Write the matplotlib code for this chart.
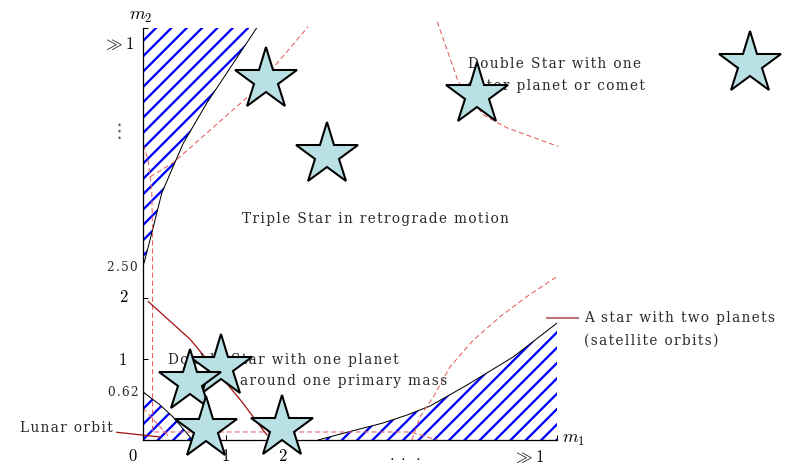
import matplotlib
matplotlib.use('Agg')
import matplotlib.pyplot as plt
from matplotlib.markers import MarkerStyle

plt.rcParams['font.family'] = ['DejaVu Serif', 'DejaVu Sans']
plt.rcParams['mathtext.fontset'] = 'cm'
plt.rcParams['hatch.linewidth'] = 1.8
plt.rcParams['hatch.color'] = 'blue'
plt.rcParams['lines.scale_dashes'] = False

# schematic units: 1 unit = 1 px, origin at the corner of the axes
# hatched regions (black boundary curves)
top_left_u = [1, 7, 12, 18.7, 28.7, 40.3, 63.7, 90.3, 113.7]
top_left_v = [177, 200, 220, 246.7, 270, 296.7, 336.7, 376.7, 412]
low_left_u = [0, 17, 30, 47, 49]
low_left_v = [48, 35, 23, 3, 0]
low_right_u = [175, 205, 240, 264, 287, 324, 370, 414]
low_right_v = [0, 8, 17, 25, 34, 55, 83, 117]

# red dashed borders
dash1_u = [0.3, 5, 8.7, 9.5, 9.5, 267, 284, 294]
dash1_v = [295, 280, 250, 207, 8, 8, 3, 0]
dash2_u = [7, 30, 63.7, 107, 137, 165]
dash2_v = [263, 277, 306.7, 345, 380, 413]
dash3_u = [268.7, 277, 290.3, 307, 330.3, 357, 383.7, 413.7]
dash3_v = [0, 23.3, 43.3, 73.3, 100, 123.3, 143.3, 163.3]
dash4_u = [294, 315, 340, 363.7, 415]
dash4_v = [418, 358.3, 325, 312, 293.3]
dash5_u = [0, 26]
dash5_v = [32, 3]

# dark red solid lines
solid_u = [5.3, 47, 98.7, 123.7]
solid_v = [138.3, 100.7, 38.3, 5]
lunar_u = [-26.3, 17]
lunar_v = [7.7, 3]
pointer_u = [403.7, 435]
pointer_v = [122, 122]

# stars
star_u = [122.7, 183.7, 334.3, 607, 77.7, 47, 63, 138.7]
star_v = [359.7, 284.3, 344.7, 375.7, 73, 58, 11, 12.3]


def spaced(s):
    # wide letter spacing like the original typesetting
    return '\u200a'.join(s)


DPI = 92
fig = plt.figure(figsize=(798.3 / DPI, 469.3 / DPI), dpi=DPI, facecolor='white')
ax = fig.add_axes([143 / 798, 29 / 469, 414 / 798, 412 / 469])
ax.set_xlim(0, 414)
ax.set_ylim(0, 412)
for s in ['top', 'right']:
    ax.spines[s].set_visible(False)
for s in ['left', 'bottom']:
    ax.spines[s].set_linewidth(1.0)
ax.set_xticks([83, 140, 414])
ax.set_yticks([81, 142, 412])
ax.set_xticklabels([])
ax.set_yticklabels([])
ax.tick_params(direction='in', length=4, width=0.8)

ax.fill_betweenx(top_left_v, 0, top_left_u, facecolor='none', edgecolor='blue', linewidth=0, hatch='//')
ax.fill_between(low_left_u, 0, low_left_v, facecolor='none', edgecolor='blue', linewidth=0, hatch='//')
ax.fill_between(low_right_u, 0, low_right_v, facecolor='none', edgecolor='blue', linewidth=0, hatch='//')
for uu, vv in [(top_left_u, top_left_v), (low_left_u, low_left_v), (low_right_u, low_right_v)]:
    ax.plot(uu, vv, color='black', lw=0.8)

red = '#e45a5a'
for uu, vv in [(dash1_u, dash1_v), (dash2_u, dash2_v), (dash3_u, dash3_v), (dash4_u, dash4_v), (dash5_u, dash5_v)]:
    ax.plot(uu, vv, color=red, lw=0.8, dashes=(3.9, 2.4), clip_on=False)

ax.plot(solid_u, solid_v, color='#a31515', lw=1.0)
ax.plot(lunar_u, lunar_v, color='#a31515', lw=1.0, clip_on=False)
ax.plot(pointer_u, pointer_v, color='#c07474', lw=1.6, clip_on=False)

# text labels
tc = '#2a2a2a'
fs = 10.7
ax.text(99, 221, spaced('Triple Star in retrograde motion'), fontsize=fs, color=tc, va='center', ha='left')
ax.text(25, 80, spaced('Double Star with one planet'), fontsize=fs, color=tc, va='center', ha='left')
ax.text(304, 59, spaced('around one primary mass'), fontsize=fs, color=tc, va='center', ha='right')
ax.text(325, 376, spaced('Double Star with one'), fontsize=fs, color=tc, va='center', ha='left')
ax.text(502, 354, spaced('outer planet or comet'), fontsize=fs, color=tc, va='center', ha='right', clip_on=False)
ax.text(441, 122, spaced('A star with two planets'), fontsize=fs, color=tc, va='center', ha='left', clip_on=False)
ax.text(441, 100, spaced('(satellite orbits)'), fontsize=fs, color=tc, va='center', ha='left', clip_on=False)
ax.text(-30, 12, spaced('Lunar orbit'), fontsize=fs, color=tc, va='center', ha='right', clip_on=False)

# axis labels
ax.text(-2.5, 424, r'$m_2$', fontsize=14, va='center', ha='center', clip_on=False)
ax.text(430.5, 1, r'$m_1$', fontsize=14, va='center', ha='center', clip_on=False)
ax.text(-10.5, -16.5, r'$0$', fontsize=13, va='center', ha='center', clip_on=False)
ax.text(82, -16.5, r'$1$', fontsize=13, va='center', ha='center', clip_on=False)
ax.text(139.5, -16.5, r'$2$', fontsize=13, va='center', ha='center', clip_on=False)
ax.text(261, -16, r'$\cdot\;\cdot\;\cdot$', fontsize=13, va='center', ha='center', clip_on=False)
ax.text(385.3, -17.5, r'$\gg 1$', fontsize=13, va='center', ha='center', clip_on=False)
ax.text(-24, 396, r'$\gg 1$', fontsize=13, va='center', ha='center', clip_on=False)
ax.text(-24, 309, '⋮', fontsize=15, family=['DejaVu Sans'], color='#555555', va='center', ha='center', clip_on=False)
ax.text(-15, 142.5, r'$2$', fontsize=13, va='center', ha='right', clip_on=False)
ax.text(-16, 80, r'$1$', fontsize=13, va='center', ha='right', clip_on=False)
ax.text(-5, 173, spaced('2.50'), fontsize=9.5, color=tc, va='center', ha='right', clip_on=False)
ax.text(-4, 48, spaced('0.62'), fontsize=9.5, color=tc, va='center', ha='right', clip_on=False)

ax.plot(star_u, star_v, ls='none', marker=MarkerStyle('*', joinstyle='miter'), ms=51,
        mfc='#b9e0e4', mec='black', mew=1.6, clip_on=False, zorder=5)

fig.savefig('out.png', dpi=DPI, facecolor='white')
